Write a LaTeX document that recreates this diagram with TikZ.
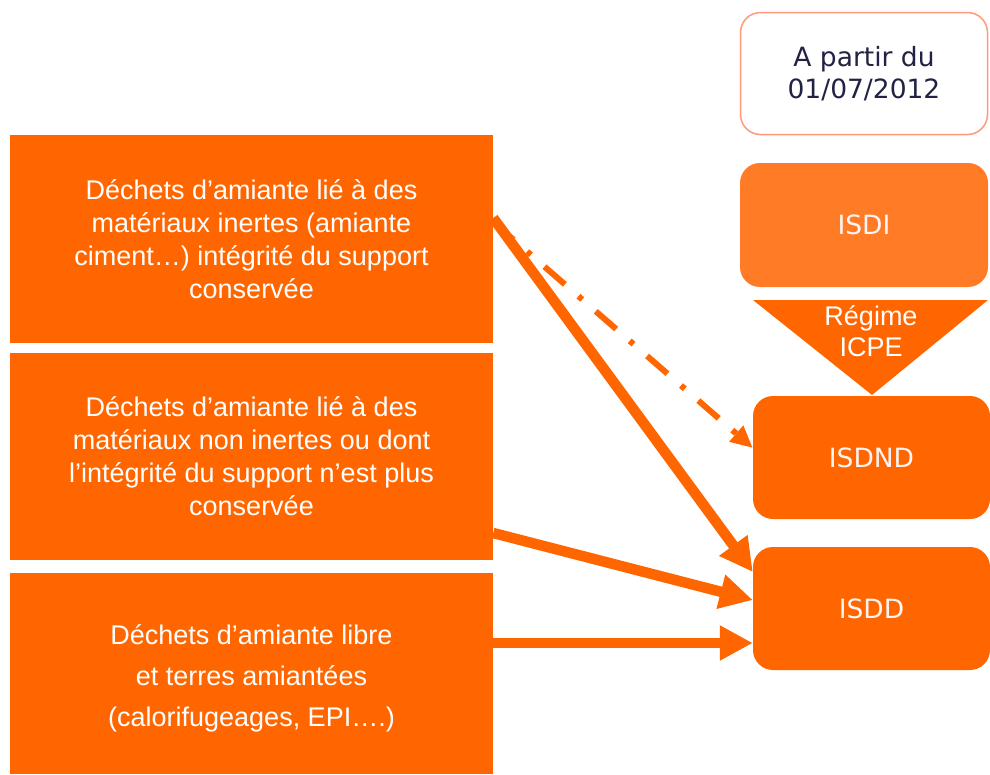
\documentclass[tikz,border=0pt]{standalone}
\usepackage{fontspec}
\setmainfont{Liberation Sans}
\newfontfamily\verdanalike{DejaVu Sans}
\usetikzlibrary{arrows.meta}
\definecolor{ora}{HTML}{FF6600}
\definecolor{oralight}{HTML}{FF7B25}
\definecolor{oraborder}{HTML}{FF9A7A}
\definecolor{navy}{HTML}{222244}
\definecolor{pinkwhite}{HTML}{FFF4F4}
\tikzset{
  leftbox/.style={fill=ora, text=white, align=center, inner sep=0pt,
    minimum width=483pt, font=\fontsize{27}{33}\selectfont},
  rbox/.style={rounded corners=20pt, align=center, inner sep=0pt,
    font=\verdanalike\fontsize{26.5}{32}\selectfont},
  flow/.style={draw=ora, line width=10.5pt, -{Triangle[length=33pt,width=33pt]}},
  dflow/.style={draw=ora, line width=6pt, dash pattern=on 27pt off 18pt on 5pt off 18pt,
    -{Triangle[length=22pt,width=20pt]}}
}
\begin{document}
\begin{tikzpicture}[x=1pt,y=-1pt]
\useasboundingbox (0,0) rectangle (990,774);
% left boxes
\node[leftbox, minimum height=208pt] (b1) at (251.5,239)
  {Déchets d’amiante lié à des\\matériaux inertes (amiante\\ciment…) intégrité du support\\conservée};
\node[leftbox, minimum height=207pt] (b2) at (251.5,456.5)
  {Déchets d’amiante lié à des\\matériaux non inertes ou dont\\l’intégrité du support n’est plus\\conservée};
\node[leftbox, minimum height=201pt] (b3) at (251.5,673.5) {};
\node[text=white, align=center, inner sep=0pt, font=\fontsize{27}{41}\selectfont] (b3text) at (251.5,678)
  {Déchets d’amiante libre\\et terres amiantées\\(calorifugeages, EPI….)};
% right column
\node[rbox, draw=oraborder, line width=1.5pt, fill=white, text=navy,
  minimum width=247pt, minimum height=122pt] (date) at (864,73.5)
  {A partir du\\01/07/2012};
\node[rbox, fill=oralight, text=pinkwhite, minimum width=248pt, minimum height=124pt] (isdi) at (864,225) {ISDI};
\coordinate (t1) at (753,300);
\coordinate (t2) at (988,300);
\coordinate (t3) at (872,395);
\fill[ora] (t1) -- (t2) -- (t3) -- cycle;
\node[text=white, align=center, font=\fontsize{27}{31}\selectfont, inner sep=0pt] (regime) at (871,331) {Régime\\ICPE};
\node[rbox, fill=ora, text=pinkwhite, minimum width=237pt, minimum height=123pt] (isdnd) at (871.5,457.5) {ISDND};
\node[rbox, fill=ora, text=pinkwhite, minimum width=237pt, minimum height=123pt] (isdd) at (871.5,608.5) {ISDD};
% connectors
\draw[dflow] ([yshift=17pt]b1.east) -- ([yshift=9.5pt]isdnd.west);
\draw[flow] ([yshift=21pt]b1.east) -- ([yshift=36.5pt]isdd.west);
\draw[flow] ([yshift=-76.5pt]b2.east) -- ([yshift=8.5pt]isdd.west);
\draw[flow] ([yshift=30.5pt]b3.east) -- ([yshift=-34.5pt]isdd.west);
\end{tikzpicture}
\end{document}
